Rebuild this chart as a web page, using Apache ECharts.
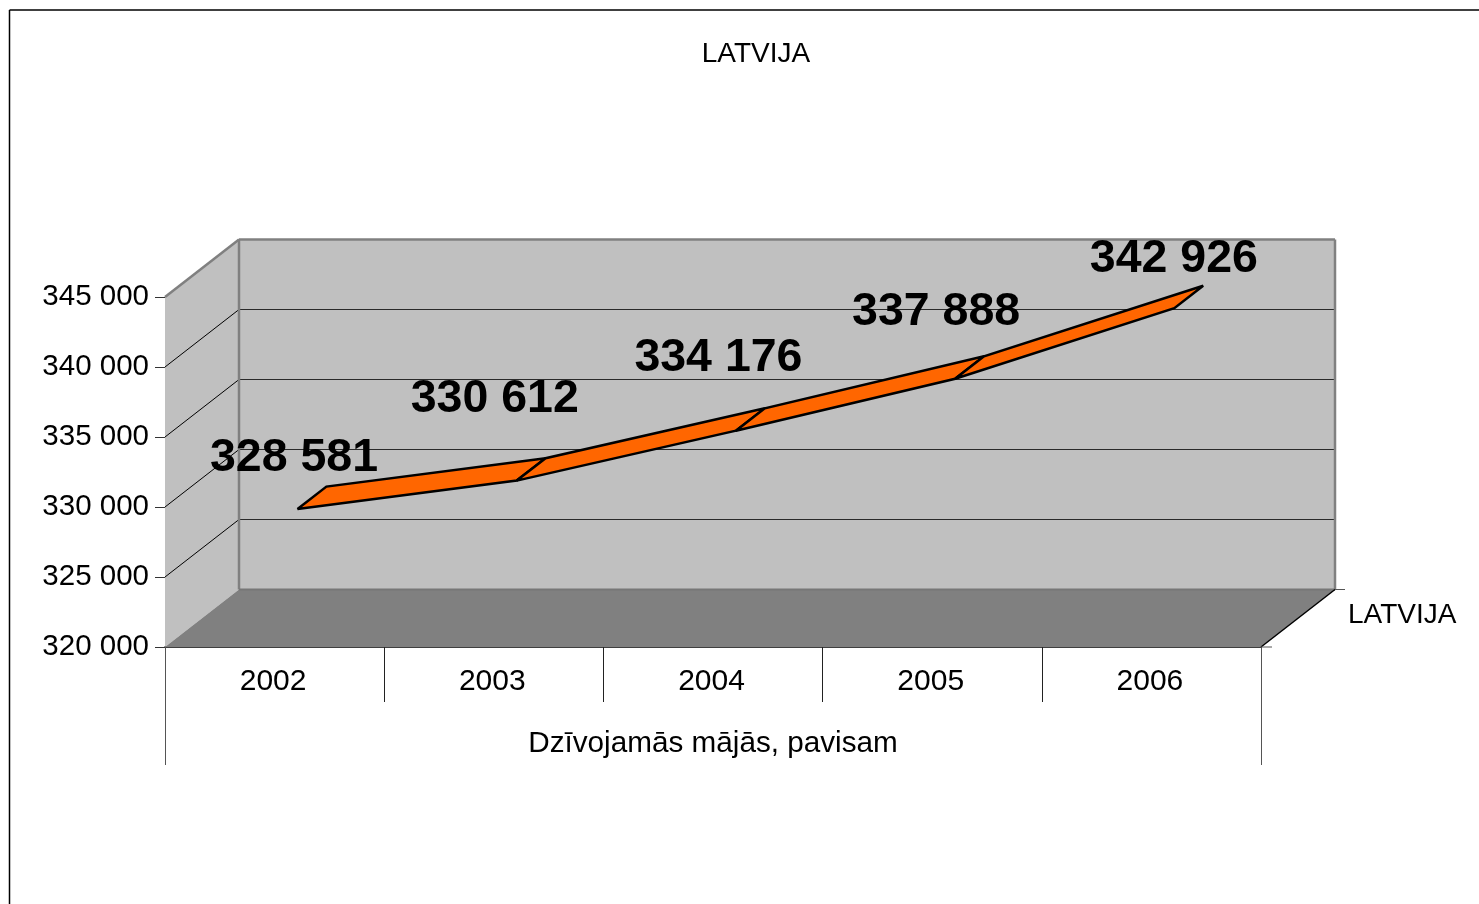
<!DOCTYPE html>
<html>
<head>
<meta charset="utf-8">
<style>html,body{margin:0;padding:0;background:#fff}#c{width:1479px;height:904px}</style>
<script src="https://cdn.jsdelivr.net/npm/echarts@6/dist/echarts.min.js"></script>
</head>
<body>
<div id="c"></div>
<script>
const years = ['2002', '2003', '2004', '2005', '2006'];
const groupLabel = ['Dzīvojamās mājās, pavisam'];
const values = [328581, 330612, 334176, 337888, 342926];
const seriesName = 'LATVIJA';
const axisMin = 320000, axisMax = 345000, axisStep = 5000;
const yTicks = [320000, 325000, 330000, 335000, 340000, 345000];

// presentation constants
const FONT = '"Liberation Sans", Arial, sans-serif';
const DEPTH = [74, -57.5];
const RIBBON_NEAR = 0.31, RIBBON_FAR = 0.70;
const labelNudge = [[-3.5, -50.5], [-22, -81.5], [-17.5, -72.5], [-19, -66.5], [-0.5, -49.5]];

const fmt = v => String(v).replace(/\B(?=(\d{3})+$)/g, ' ');
const line = (x1, y1, x2, y2, stroke, lineWidth) => ({
  type: 'line', shape: { x1, y1, x2, y2 }, style: { stroke, lineWidth }
});
const poly = (points, fill, stroke, lineWidth) => ({
  type: 'polygon', shape: { points }, style: { fill, stroke, lineWidth, lineJoin: 'miter', miterLimit: 3 }
});

function renderBox(params, api) {
  const c = params.coordSys;
  const L = c.x, R = c.x + c.width, T = c.y, B = c.y + c.height;
  const dx = DEPTH[0], dy = DEPTH[1];
  const kids = [
    poly([[L + dx, T + dy], [R + dx, T + dy], [R + dx, B + dy], [L + dx, B + dy]], '#c0c0c0'),
    poly([[L, T], [L + dx, T + dy], [L + dx, B + dy], [L, B]], '#c0c0c0'),
    poly([[L, B], [L + dx, B + dy], [R + dx, B + dy], [R, B]], '#808080')
  ];
  yTicks.slice(1, -1).forEach(t => {
    const y = api.coord([0, t])[1];
    kids.push(line(L, y, L + dx, y + dy, '#000', 1));
    kids.push(line(L + dx, y + dy, R + dx, y + dy, '#2a2a2a', 1));
  });
  kids.push(line(L + dx, T + dy, R + dx, T + dy, '#808080', 2.5));
  kids.push(line(L, T, L + dx, T + dy, '#808080', 2.5));
  kids.push(line(L + dx, T + dy, L + dx, B + dy, '#808080', 2.5));
  kids.push(line(R + dx, T + dy, R + dx, B + dy, '#808080', 2.5));
  kids.push(line(L + dx, B + dy, R + dx, B + dy, '#777', 2));
  kids.push(line(R, B, R + dx, B + dy, '#000', 1.5));
  kids.push(line(R, B, R + 11, B, '#555', 1));
  kids.push(line(R + dx, B + dy, R + dx + 10, B + dy, '#555', 1));
  kids.push({
    type: 'text',
    style: { x: R + 87, y: B - 32, text: seriesName, font: '28px ' + FONT, fill: '#000', textAlign: 'left', textVerticalAlign: 'middle' }
  });
  return { type: 'group', children: kids };
}

function renderRibbon(params, api) {
  const i = params.dataIndex;
  if (i >= values.length - 1) return null;
  const a = api.coord([i, values[i]]);
  const b = api.coord([i + 1, values[i + 1]]);
  const at = (p, f) => [p[0] + DEPTH[0] * f, p[1] + DEPTH[1] * f];
  return poly([at(a, RIBBON_NEAR), at(a, RIBBON_FAR), at(b, RIBBON_FAR), at(b, RIBBON_NEAR)], '#ff6600', '#000', 2.5);
}

function renderLabel(params, api) {
  const i = params.dataIndex;
  const p = api.coord([i, api.value(1)]);
  return {
    type: 'text',
    style: {
      x: p[0] + DEPTH[0] * RIBBON_NEAR + labelNudge[i][0],
      y: p[1] + DEPTH[1] * RIBBON_NEAR + labelNudge[i][1],
      text: fmt(api.value(1)),
      font: 'bold 46.5px ' + FONT, fill: '#000', textAlign: 'center', textVerticalAlign: 'middle'
    }
  };
}

const chart = echarts.init(document.getElementById('c'), null, { renderer: 'canvas' });
chart.setOption({
  animation: false,
  backgroundColor: '#fff',
  textStyle: { fontFamily: FONT },
  title: {
    text: seriesName, left: 751, top: 35, textAlign: 'center',
    textStyle: { fontFamily: FONT, fontSize: 28, fontWeight: 'normal', color: '#000' }
  },
  grid: { left: 165, top: 297, width: 1096, height: 350, containLabel: false },
  xAxis: [
    {
      type: 'category', data: years, position: 'bottom', boundaryGap: true,
      axisLine: { show: true, onZero: false, lineStyle: { color: '#000', width: 1.5 } },
      axisTick: { show: true, length: 55, lineStyle: { color: '#222', width: 1 } },
      axisLabel: { margin: 20, fontSize: 30, color: '#000', fontFamily: FONT, interval: 0, padding: [0, 3, 0, 0] },
      splitLine: { show: false }
    },
    {
      type: 'category', data: groupLabel, position: 'bottom', boundaryGap: true,
      axisLine: { show: false, onZero: false },
      axisTick: { show: true, length: 118, lineStyle: { color: '#555', width: 1 } },
      axisLabel: { margin: 82, fontSize: 29.7, color: '#000', fontFamily: FONT },
      splitLine: { show: false }
    }
  ],
  yAxis: {
    type: 'value', min: axisMin, max: axisMax, interval: axisStep,
    axisLine: { show: true, lineStyle: { color: '#555', width: 1 } },
    axisTick: { show: true, length: 10, lineStyle: { color: '#333', width: 1 } },
    axisLabel: { margin: 16, fontSize: 29.5, color: '#000', fontFamily: FONT, formatter: fmt, padding: [0, 0, 3, 0] },
    splitLine: { show: false }
  },
  graphic: [
    { type: 'line', shape: { x1: 9.5, y1: 10, x2: 1479, y2: 10 }, style: { stroke: '#000', lineWidth: 1.5 } },
    { type: 'line', shape: { x1: 9.5, y1: 10, x2: 9.5, y2: 904 }, style: { stroke: '#000', lineWidth: 1.5 } }
  ],
  series: [
    { type: 'custom', name: 'box', silent: true, xAxisIndex: 0, yAxisIndex: 0, z: 1, data: [[0, axisMin]], renderItem: renderBox, clip: false },
    { type: 'custom', name: seriesName, silent: true, xAxisIndex: 0, yAxisIndex: 0, z: 3, data: values.map((v, i) => [i, v]), renderItem: renderRibbon, clip: false },
    { type: 'custom', name: 'labels', silent: true, xAxisIndex: 0, yAxisIndex: 0, z: 4, data: values.map((v, i) => [i, v]), renderItem: renderLabel, clip: false }
  ]
});
</script>
</body>
</html>
